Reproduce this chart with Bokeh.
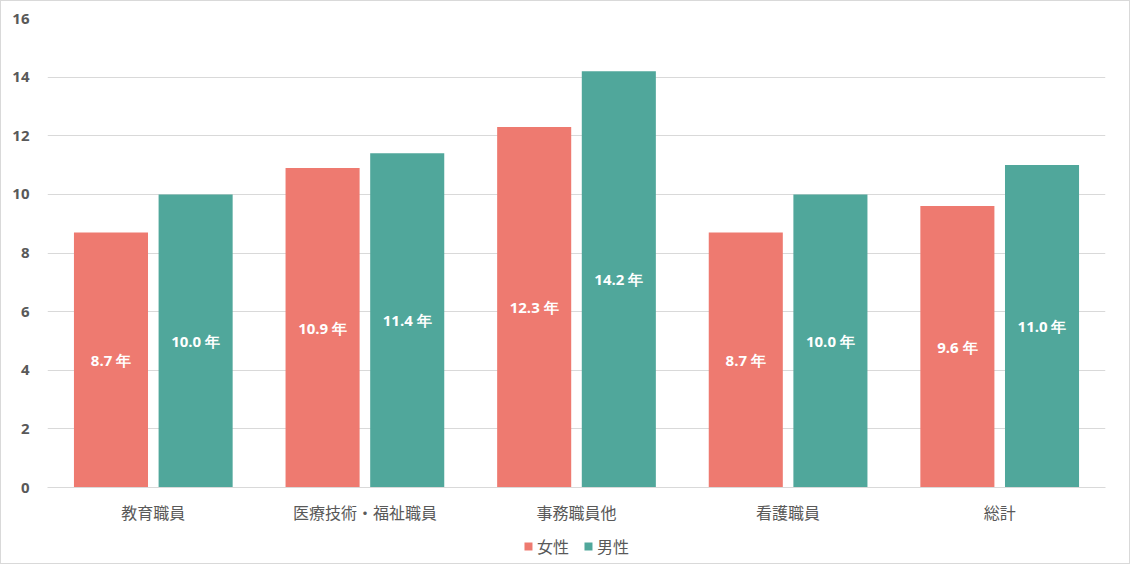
from bokeh.plotting import figure
from bokeh.layouts import column
from bokeh.models import ColumnDataSource, FactorRange, Range1d, FixedTicker, LabelSet
from bokeh.core.properties import value
from bokeh.transform import dodge
from bokeh.embed import file_html
from bokeh.resources import INLINE

categories = ["教育職員", "医療技術・福祉職員", "事務職員他", "看護職員", "総計"]
female = [8.7, 10.9, 12.3, 8.7, 9.6]
male = [10.0, 11.4, 14.2, 10.0, 11.0]
series_names = ["女性", "男性"]
y_ticks = [0, 2, 4, 6, 8, 10, 12, 14, 16]

CJK = "Noto Sans CJK JP"
NUM = "Open Sans"
C_F = "#EE7A70"
C_M = "#50A79B"
TXT = "#595959"

src = ColumnDataSource(dict(
    cat=categories,
    female=female,
    male=male,
    female_mid=[v / 2 for v in female],
    male_mid=[v / 2 for v in male],
    female_lbl=[f"{v:.1f} 年" for v in female],
    male_lbl=[f"{v:.1f} 年" for v in male],
))

xr = FactorRange(*categories, range_padding=0)

p = figure(width=1128, height=528, output_backend="svg", toolbar_location=None,
           x_range=xr, y_range=Range1d(0, 16),
           min_border_left=46, min_border_right=24, min_border_top=17, min_border_bottom=42)

p.vbar(x=dodge("cat", -0.2, range=xr), top="female", width=0.35, source=src,
       color=C_F, line_color=None)
p.vbar(x=dodge("cat", 0.2, range=xr), top="male", width=0.35, source=src,
       color=C_M, line_color=None)

for off, ycol, tcol in [(-0.2, "female_mid", "female_lbl"), (0.2, "male_mid", "male_lbl")]:
    p.add_layout(LabelSet(x=dodge("cat", off, range=xr), y=ycol, text=tcol, source=src,
                          text_align="center", text_baseline="middle", text_color="white",
                          text_font=value(NUM), text_font_size="15px", text_font_style="bold"))

p.outline_line_color = None
p.xgrid.grid_line_color = None
p.ygrid.grid_line_color = "#D9D9D9"
p.ygrid.grid_line_width = 1

p.yaxis.ticker = FixedTicker(ticks=y_ticks)
p.yaxis.axis_line_color = None
p.yaxis.major_tick_line_color = None
p.yaxis.minor_tick_line_color = None
p.yaxis.major_label_text_font = NUM
p.yaxis.major_label_text_font_size = "15px"
p.yaxis.major_label_text_font_style = "bold"
p.yaxis.major_label_text_color = TXT
p.yaxis.major_label_standoff = 12

p.xaxis.axis_line_color = "#D9D9D9"
p.xaxis.major_tick_line_color = None
p.xaxis.minor_tick_line_color = None
p.xaxis.major_label_text_font = CJK
p.xaxis.major_label_text_font_size = "16px"
p.xaxis.major_label_text_color = TXT
p.xaxis.major_label_standoff = 6

# legend strip: same series drawn out of view, only the legend shows
lp = figure(width=1128, height=34, output_backend="svg", toolbar_location=None,
            x_range=xr, y_range=Range1d(100, 101), min_border=0)
lp.axis.visible = False
lp.grid.visible = False
lp.outline_line_color = None
lp.vbar(x=dodge("cat", -0.2, range=xr), top="female", width=0.35, source=src,
        color=C_F, line_color=None, legend_label=series_names[0])
lp.vbar(x=dodge("cat", 0.2, range=xr), top="male", width=0.35, source=src,
        color=C_M, line_color=None, legend_label=series_names[1])
leg = lp.legend[0]
leg.orientation = "horizontal"
leg.location = "center"
leg.border_line_color = None
leg.background_fill_alpha = 0
leg.label_text_font = CJK
leg.label_text_font_size = "16px"
leg.label_text_color = TXT
leg.glyph_width = 10
leg.glyph_height = 10
leg.label_standoff = 4
leg.spacing = 14
leg.padding = 0
leg.margin = 0

layout = column(p, lp, spacing=0)
layout.styles = {"border": "1px solid #D9D9D9"}

open("out.html", "w").write(file_html(layout, INLINE))
